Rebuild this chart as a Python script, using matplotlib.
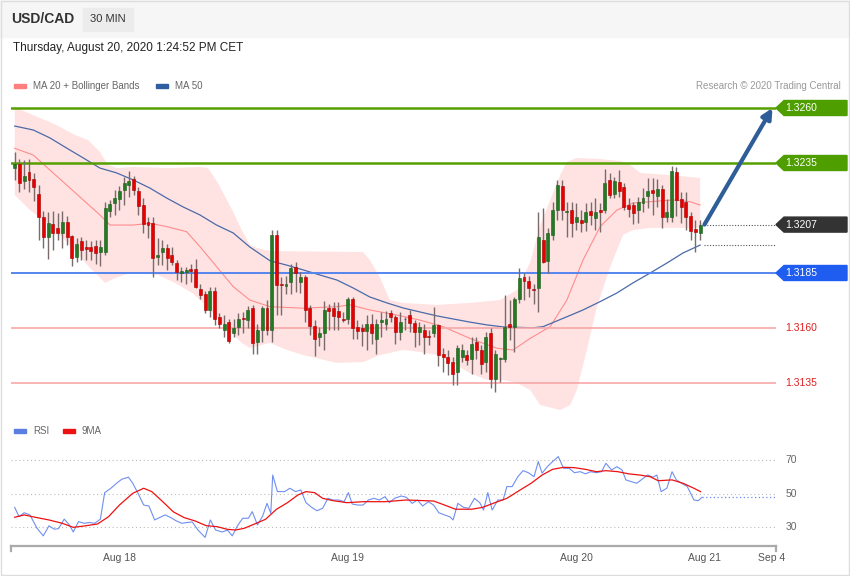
import numpy as np
import matplotlib
matplotlib.use("Agg")
import matplotlib.pyplot as plt
from matplotlib.patches import Polygon, Rectangle
from matplotlib.transforms import blended_transform_factory

plt.rcParams['font.family'] = ['Liberation Sans', 'DejaVu Sans']

# ---- candles (30 min bars, Aug 17 13:00 -> Aug 20 13:00) ----
opens = [1.32328, 1.32344, 1.32269, 1.32307, 1.32276, 1.32209, 1.32103, 1.32012, 1.32071, 1.32053,
         1.32030, 1.32084, 1.32018, 1.31923, 1.31996, 1.31966, 1.31966, 1.31972, 1.31945, 1.31946,
         1.32133, 1.32166, 1.32187, 1.32227, 1.32250, 1.32275, 1.32224, 1.32159, 1.32083, 1.32075,
         1.31923, 1.31946, 1.31962, 1.31930, 1.31896, 1.31851, 1.31853, 1.31867, 1.31867, 1.31775,
         1.31754, 1.31684, 1.31769, 1.31650, 1.31590, 1.31628, 1.31575, 1.31605, 1.31643, 1.31635,
         1.31689, 1.31537, 1.31593, 1.31693, 1.31593, 1.32022, 1.31798, 1.31793, 1.31810, 1.31878,
         1.31810, 1.31830, 1.31689, 1.31608, 1.31557, 1.31575, 1.31693, 1.31689, 1.31678, 1.31640,
         1.31640, 1.31731, 1.31604, 1.31598, 1.31587, 1.31617, 1.31552, 1.31626, 1.31620, 1.31669,
         1.31650, 1.31582, 1.31639, 1.31658, 1.31623, 1.31582, 1.31593, 1.31559, 1.31578, 1.31613,
         1.31481, 1.31468, 1.31446, 1.31400, 1.31468, 1.31476, 1.31461, 1.31537, 1.31502, 1.31446,
         1.31575, 1.31366, 1.31461, 1.31461, 1.31616, 1.31605, 1.31734, 1.31830, 1.31814, 1.31772,
         1.31784, 1.31999, 1.31905, 1.32022, 1.32136, 1.32245, 1.32125, 1.32136, 1.32083, 1.32090,
         1.32083, 1.32133, 1.32098, 1.32136, 1.32136, 1.32272, 1.32209, 1.32265, 1.32239, 1.32159,
         1.32159, 1.32136, 1.32169, 1.32200, 1.32227, 1.32200, 1.32230, 1.32103, 1.32103, 1.32310,
         1.32185, 1.32174, 1.32109, 1.32048, 1.32033]
highs = [1.32401, 1.32368, 1.32363, 1.32368, 1.32303, 1.32250, 1.32133, 1.32128, 1.32133, 1.32122,
         1.32133, 1.32109, 1.32022, 1.32007, 1.32014, 1.31999, 1.31995, 1.31999, 1.31999, 1.32174,
         1.32181, 1.32227, 1.32245, 1.32287, 1.32313, 1.32291, 1.32242, 1.32189, 1.32105, 1.32105,
         1.32007, 1.31999, 1.31984, 1.31969, 1.31908, 1.31878, 1.31875, 1.31893, 1.31912, 1.31802,
         1.31769, 1.31787, 1.31787, 1.31666, 1.31658, 1.31643, 1.31643, 1.31666, 1.31673, 1.31699,
         1.31704, 1.31620, 1.31699, 1.31726, 1.32045, 1.32045, 1.31832, 1.31835, 1.31893, 1.31901,
         1.31855, 1.31840, 1.31704, 1.31635, 1.31605, 1.31723, 1.31711, 1.31719, 1.31719, 1.31673,
         1.31741, 1.31741, 1.31635, 1.31620, 1.31658, 1.31663, 1.31643, 1.31673, 1.31678, 1.31681,
         1.31658, 1.31673, 1.31650, 1.31681, 1.31635, 1.31628, 1.31620, 1.31590, 1.31695, 1.31620,
         1.31507, 1.31499, 1.31468, 1.31522, 1.31529, 1.31499, 1.31559, 1.31559, 1.31522, 1.31582,
         1.31598, 1.31499, 1.31468, 1.31749, 1.31726, 1.31741, 1.31871, 1.31848, 1.31835, 1.31802,
         1.32128, 1.32144, 1.32053, 1.32174, 1.32272, 1.32272, 1.32174, 1.32174, 1.32166, 1.32136,
         1.32166, 1.32174, 1.32189, 1.32166, 1.32321, 1.32303, 1.32287, 1.32318, 1.32257, 1.32189,
         1.32174, 1.32196, 1.32235, 1.32280, 1.32280, 1.32276, 1.32250, 1.32185, 1.32336, 1.32333,
         1.32219, 1.32219, 1.32128, 1.32090, 1.32090]
lows = [1.32272, 1.32219, 1.32231, 1.32219, 1.32178, 1.31999, 1.31962, 1.31912, 1.31954, 1.31999,
        1.31962, 1.31977, 1.31881, 1.31901, 1.31908, 1.31908, 1.31908, 1.31893, 1.31881, 1.31931,
        1.32105, 1.32113, 1.32136, 1.32159, 1.32195, 1.32204, 1.32113, 1.32030, 1.32007, 1.31832,
        1.31886, 1.31886, 1.31863, 1.31886, 1.31817, 1.31810, 1.31802, 1.31810, 1.31780, 1.31734,
        1.31669, 1.31650, 1.31613, 1.31598, 1.31559, 1.31532, 1.31559, 1.31567, 1.31575, 1.31600,
        1.31484, 1.31484, 1.31537, 1.31567, 1.31537, 1.31661, 1.31658, 1.31754, 1.31754, 1.31764,
        1.31757, 1.31628, 1.31567, 1.31472, 1.31517, 1.31499, 1.31590, 1.31590, 1.31590, 1.31628,
        1.31620, 1.31552, 1.31552, 1.31517, 1.31499, 1.31529, 1.31484, 1.31559, 1.31590, 1.31628,
        1.31529, 1.31544, 1.31590, 1.31582, 1.31514, 1.31522, 1.31484, 1.31522, 1.31559, 1.31426,
        1.31400, 1.31385, 1.31340, 1.31340, 1.31446, 1.31431, 1.31393, 1.31461, 1.31393, 1.31400,
        1.31325, 1.31309, 1.31355, 1.31446, 1.31544, 1.31491, 1.31713, 1.31726, 1.31739, 1.31711,
        1.31673, 1.31895, 1.31848, 1.31999, 1.32090, 1.32090, 1.32014, 1.32012, 1.32045, 1.32037,
        1.32042, 1.32068, 1.32045, 1.32037, 1.32121, 1.32189, 1.32189, 1.32196, 1.32136, 1.32105,
        1.32072, 1.32075, 1.32127, 1.32144, 1.32113, 1.32151, 1.32053, 1.32083, 1.32083, 1.32109,
        1.32075, 1.32045, 1.31999, 1.31946, 1.31999]
closes = [1.32344, 1.32260, 1.32291, 1.32272, 1.32239, 1.32103, 1.32014, 1.32075, 1.32030, 1.32030,
          1.32081, 1.32014, 1.31916, 1.31981, 1.31954, 1.31957, 1.31951, 1.31939, 1.31966, 1.32144,
          1.32163, 1.32189, 1.32224, 1.32260, 1.32268, 1.32227, 1.32154, 1.32072, 1.32068, 1.31916,
          1.31931, 1.31962, 1.31916, 1.31898, 1.31855, 1.31858, 1.31863, 1.31860, 1.31787, 1.31749,
          1.31684, 1.31769, 1.31643, 1.31617, 1.31620, 1.31541, 1.31598, 1.31643, 1.31640, 1.31681,
          1.31532, 1.31593, 1.31693, 1.31593, 1.32022, 1.31795, 1.31795, 1.31802, 1.31871, 1.31851,
          1.31832, 1.31681, 1.31608, 1.31552, 1.31575, 1.31681, 1.31678, 1.31655, 1.31650, 1.31638,
          1.31731, 1.31602, 1.31587, 1.31587, 1.31620, 1.31575, 1.31620, 1.31635, 1.31643, 1.31650,
          1.31582, 1.31628, 1.31640, 1.31623, 1.31582, 1.31605, 1.31557, 1.31558, 1.31613, 1.31476,
          1.31468, 1.31441, 1.31393, 1.31507, 1.31502, 1.31453, 1.31529, 1.31499, 1.31438, 1.31559,
          1.31366, 1.31484, 1.31463, 1.31605, 1.31605, 1.31734, 1.31825, 1.31814, 1.31780, 1.31771,
          1.32014, 1.31901, 1.32030, 1.32136, 1.32250, 1.32136, 1.32130, 1.32078, 1.32105, 1.32078,
          1.32128, 1.32113, 1.32128, 1.32128, 1.32260, 1.32204, 1.32268, 1.32224, 1.32151, 1.32139,
          1.32124, 1.32174, 1.32189, 1.32222, 1.32213, 1.32230, 1.32103, 1.32128, 1.32315, 1.32181,
          1.32151, 1.32105, 1.32042, 1.32037, 1.32068]

# ---- MA 20, Bollinger bands, MA 50 (read at sample bars) ----
ma20_idx = [0, 3.9, 7.4, 10.9, 14.4, 17.9, 20, 24.9, 28.4, 31.9, 36.1, 38.9, 42.4, 45.9, 49.4, 53.6,
            60.6, 67.7, 70.4, 74.6, 80.3, 85.1, 90, 95.6, 101.3, 104.7, 108.3, 112.5, 116, 119.4,
            123, 126.5, 129.9, 133.5, 138.3, 141.9, 144]
ma20_val = [1.32417, 1.32386, 1.32318, 1.32250, 1.32182, 1.32114, 1.32068, 1.32068, 1.32076, 1.32061,
            1.32038, 1.31970, 1.31879, 1.31788, 1.31727, 1.31697, 1.31690, 1.31697, 1.31705, 1.31682,
            1.31659, 1.31636, 1.31606, 1.31553, 1.31508, 1.31500, 1.31553, 1.31606, 1.31727, 1.31909,
            1.32061, 1.32136, 1.32168, 1.32174, 1.32182, 1.32174, 1.32159]
ma50_idx = [0, 3.9, 7.4, 10.9, 14.4, 17.9, 21.4, 24.9, 28.4, 31.9, 35.4, 38.9, 42.4, 45.9, 49.4, 53.6,
            57.1, 60.6, 64.1, 67.7, 71.1, 74.6, 78.2, 81.6, 85.1, 88.7, 92.1, 95.6, 99.2, 102.6, 108.9,
            111, 116, 119.4, 123, 126.5, 129.9, 133.5, 137, 140.4, 144]
ma50_val = [1.32518, 1.32500, 1.32464, 1.32418, 1.32373, 1.32327, 1.32305, 1.32273, 1.32236, 1.32191,
            1.32150, 1.32114, 1.32068, 1.32032, 1.31968, 1.31906, 1.31886, 1.31864, 1.31841, 1.31818,
            1.31782, 1.31741, 1.31714, 1.31691, 1.31673, 1.31655, 1.31641, 1.31627, 1.31614, 1.31605,
            1.31601, 1.31606, 1.31651, 1.31682, 1.31720, 1.31759, 1.31805, 1.31850, 1.31895, 1.31941,
            1.31977]
bb_up_idx = [0, 3.8, 7.4, 9.5, 12.7, 15.4, 17.9, 19.6, 21.5, 24.9, 32.6, 38.9, 40.6, 42.7, 45.7, 47.7,
             49.4, 50.9, 53.6, 73.2, 74.6, 76.7, 78.8, 81.6, 88.7, 95.6, 102, 105.5, 108.3, 110.4,
             112.5, 114.6, 116, 118.1, 123, 127.2, 129.3, 131.4, 137.7, 144]
bb_up_val = [1.32605, 1.32568, 1.32536, 1.32514, 1.32477, 1.32455, 1.32400, 1.32341, 1.32327, 1.32332,
             1.32327, 1.32332, 1.32327, 1.32259, 1.32136, 1.32045, 1.31977, 1.31964, 1.31950, 1.31945,
             1.31909, 1.31832, 1.31727, 1.31714, 1.31705, 1.31714, 1.31727, 1.31773, 1.31900, 1.32068,
             1.32182, 1.32295, 1.32355, 1.32373, 1.32368, 1.32359, 1.32341, 1.32305, 1.32295, 1.32282]
bb_lo_idx = [0, 3.2, 7.4, 11.6, 15.8, 19, 21.1, 24.9, 30.1, 33.7, 37.3, 40.6, 44.2, 47.7, 49.4, 53.6,
             57.2, 60.6, 67.7, 73.2, 76.7, 81.6, 85.1, 88.7, 92.1, 95.6, 99.2, 102.6, 105.5, 108.3,
             110.4, 114.6, 116.7, 118.1, 120.2, 122.3, 125.1, 127.8, 129.9, 133.5, 144]
bb_lo_val = [1.32205, 1.32136, 1.32068, 1.31977, 1.31873, 1.31805, 1.31827, 1.31855, 1.31841, 1.31805,
             1.31759, 1.31695, 1.31605, 1.31532, 1.31509, 1.31532, 1.31500, 1.31477, 1.31441, 1.31445,
             1.31477, 1.31500, 1.31491, 1.31477, 1.31441, 1.31395, 1.31364, 1.31364, 1.31350, 1.31318,
             1.31250, 1.31227, 1.31250, 1.31318, 1.31500, 1.31695, 1.31877, 1.32023, 1.32045, 1.32055,
             1.32055]

# ---- RSI and its 9 period MA ----
rsi_idx = [0, 0.9, 2.0, 3.2, 4.7, 6.0, 7.2, 8.3, 9.2, 10.4, 11.5, 12.3, 13.4, 14.6, 15.7, 16.8, 18.0,
           18.9, 20.2, 21.4, 22.5, 23.9, 24.8, 25.9, 27.1, 28.2, 29.4, 30.5, 31.6, 32.8, 33.9, 35.1,
           36.2, 37.3, 38.5, 40.0, 41.1, 42.2, 43.6, 44.7, 45.7, 46.8, 47.9, 49.1, 49.9, 51.0, 52.1,
           53.0, 53.8, 54.2, 55.2, 56.7, 57.8, 59.0, 60.1, 61.2, 62.4, 63.5, 64.7, 65.8, 66.9, 68.1,
           69.2, 70.1, 70.9, 72.1, 73.2, 74.3, 75.5, 76.6, 77.8, 78.7, 79.8, 81.2, 82.3, 83.5, 84.6,
           85.7, 86.9, 88.0, 89.1, 90.3, 91.4, 92.1, 93.1, 94.3, 95.4, 96.6, 97.7, 98.5, 99.4, 100.3,
           101.5, 102.6, 103.4, 104.5, 105.7, 106.8, 107.9, 109.1, 110.0, 110.8, 111.9, 113.0, 114.2,
           115.3, 116.5, 117.6, 118.8, 119.9, 121.0, 122.2, 123.3, 124.2, 125.4, 126.5, 127.6, 128.4,
           129.6, 130.7, 131.8, 133.0, 134.1, 134.9, 135.8, 137.0, 138.1, 139.0, 140.1, 141.3, 142.7,
           143.6, 144.4]
rsi_val = [42, 36.5, 38.8, 37.5, 29.5, 25, 31, 29, 29.3, 35, 31.5, 27.3, 33.5, 32.5, 33, 32.5, 35,
           50.8, 53.4, 56.4, 58.8, 60, 56.4, 50.4, 43.4, 42.8, 34.5, 36, 37.5, 35.9, 34, 32.5, 33,
           33.3, 28.5, 24.1, 34.5, 28.5, 27.3, 28.5, 25, 31, 35.5, 35.5, 39.5, 31.5, 36.9, 44.4, 38.5,
           61.3, 51.4, 51.4, 53.4, 51.4, 52.4, 44.8, 42, 40, 41.5, 47.4, 46.4, 46.4, 45.4, 50.8, 44,
           43.4, 43.4, 46.4, 47.4, 46.4, 48.4, 44.8, 47.4, 48.8, 48, 44.4, 46.4, 42.8, 45.4, 43.4,
           38.8, 37.5, 36.4, 34.5, 44.4, 42, 41.5, 47.4, 44.8, 40.4, 50.8, 40.4, 46.4, 46.4, 54.4,
           54.4, 60.3, 63.9, 62.7, 60.3, 69.3, 62.4, 66.3, 69.3, 72.3, 65.3, 65.3, 62.7, 63.3, 62,
           63.3, 62.7, 63.3, 68.3, 64.3, 66.3, 64.3, 58.4, 57.3, 56.4, 58.8, 61.3, 60, 61.3, 51.4,
           53.4, 63.3, 58.4, 56.4, 54.4, 46.4, 46, 48]
rsi_ma_idx = [0, 2.0, 4.3, 7.2, 10.0, 12.3, 14.6, 17.4, 19.7, 22.0, 24.8, 27.1, 28.8, 31.1, 33.3,
              35.6, 37.9, 40.2, 42.5, 44.7, 46.4, 48.2, 50.4, 52.7, 55.0, 57.3, 59.5, 61.2, 63.0,
              64.7, 66.9, 69.8, 73.2, 77.8, 82.3, 88.0, 90.3, 92.6, 96.0, 98.3, 100.5, 103.4, 106.2,
              108.5, 110.8, 113.0, 115.3, 117.6, 119.9, 122.2, 124.2, 126.7, 129.0, 131.3, 133.5,
              135.2, 138.1, 140.4, 142.7, 144.1]
rsi_ma_val = [36.1, 37.5, 36.1, 34.5, 32.5, 30.1, 30.9, 32.1, 36.4, 43.4, 50.4, 53.4, 51.4, 45.4,
              39.4, 35.9, 33.9, 31.1, 30.5, 28.9, 28.5, 29.5, 32.1, 34.9, 40.9, 44.8, 49.4, 51.4,
              50.8, 47.4, 46, 44.8, 45.4, 45.4, 46.4, 45.8, 43.4, 40.9, 40.9, 42, 44.4, 47.4, 52.4,
              56.4, 61.3, 64.7, 65.9, 65.7, 64.7, 63.3, 63.9, 63.3, 62, 61.3, 60.3, 57.9, 58.4, 56.4,
              53.4, 51.4]

# ---- levels and axis labels ----
res_levels = [1.3260, 1.3235]
pivot_level = 1.3185
sup_levels = [1.3160, 1.3135]
last_price = 1.3207
target = 1.3260
date_ticks = [22.1, 70.0, 118.1, 145.0, 159.1]
date_labels = ['Aug 18', 'Aug 19', 'Aug 20', 'Aug 21', 'Sep 4']

W, H = 850, 576
fig = plt.figure(figsize=(W / 100, H / 100), dpi=100)


def fx(px):
    return px / W


def fy(py):
    return 1 - py / H


# header strip and frame
fig.patches.append(Rectangle((0, fy(37)), 1, 37 / H, transform=fig.transFigure,
                             color='#f6f6f6', zorder=0))
fig.patches.append(Rectangle((fx(83), fy(31)), 50 / W, 23 / H, transform=fig.transFigure,
                             color='#ececec', zorder=1))
fig.patches.append(Rectangle((0.001, 0.001), 0.998, 0.998, transform=fig.transFigure,
                             fill=False, ec='#dddddd', lw=1, zorder=1))

fig.text(fx(11), fy(19), 'USD/CAD', fontsize=10, fontweight='bold', color='#333333', va='center')
fig.text(fx(108), fy(19), '30 MIN', fontsize=8, color='#333333', va='center', ha='center')
fig.text(fx(13), fy(48), 'Thursday, August 20, 2020 1:24:52 PM CET', fontsize=8.5,
         color='#222222', va='center')

# legend rows
fig.patches.append(Rectangle((fx(14), fy(88)), 12 / W, 4 / H, transform=fig.transFigure, color='#ff7f7f'))
fig.text(fx(33), fy(86), 'MA 20 + Bollinger Bands', fontsize=7, color='#666666', va='center')
fig.patches.append(Rectangle((fx(156), fy(88)), 12 / W, 4 / H, transform=fig.transFigure, color='#2f5f9f'))
fig.text(fx(175), fy(86), 'MA 50', fontsize=7, color='#666666', va='center')
fig.text(fx(841), fy(86), 'Research \u00a9 2020 Trading Central', fontsize=7, color='#999999',
         va='center', ha='right')

fig.patches.append(Rectangle((fx(14), fy(433)), 12 / W, 4 / H, transform=fig.transFigure, color='#5b7fe0'))
fig.text(fx(33), fy(431), 'RSI', fontsize=7, color='#666666', va='center')
fig.patches.append(Rectangle((fx(63), fy(433)), 12 / W, 4 / H, transform=fig.transFigure, color='#ee1111'))
fig.text(fx(82), fy(431), '9MA', fontsize=7, color='#666666', va='center')

# ---- main price panel ----
ax = fig.add_axes([fx(11), fy(415), 765 / W, 320 / H])
ax.set_xlim(-0.78, 159.94)
ax.set_ylim(1.312045, 1.326591)
ax.axis('off')

poly_x = np.r_[bb_up_idx, bb_lo_idx[::-1]]
poly_y = np.r_[bb_up_val, bb_lo_val[::-1]]
ax.fill(poly_x, poly_y, color='#ffe3e3', lw=0, zorder=1)
ax.plot(ma20_idx, ma20_val, color='#ff8c8c', lw=0.8, zorder=2)
ax.plot(ma50_idx, ma50_val, color='#4a6aa8', lw=0.9, zorder=2)

for lv in res_levels:
    ax.axhline(lv, color='#55a000', lw=1.8, zorder=3)
ax.axhline(pivot_level, color='#5585ee', lw=1.4, zorder=3)
for lv in sup_levels:
    ax.axhline(lv, color='#f7a8a8', lw=1.2, zorder=3)

idx = np.arange(len(closes))
o = np.array(opens)
c = np.array(closes)
up = c >= o
ax.vlines(idx, lows, highs, color='#7a6a6a', lw=1, zorder=4)
body_h = np.maximum(np.abs(c - o), 0.00004)
ax.bar(idx, body_h, bottom=np.minimum(o, c), width=0.62,
       color=np.where(up, '#227a22', '#e80000'),
       edgecolor=np.where(up, '#1a5a1a', '#a00000'), lw=0.4, zorder=5)

last_i = idx[-1]
ax.plot([last_i + 0.8, 159.94], [last_price, last_price], ls=(0, (1, 1.5)), color='#555555', lw=0.8)
ax.plot([last_i + 0.8, 159.94], [ma50_val[-1], ma50_val[-1]], ls=(0, (1, 1.5)), color='#555555', lw=0.8)

ax.annotate('', xy=(159.2, target), xytext=(last_i + 0.9, last_price),
            arrowprops=dict(arrowstyle='-|>', color='#2e5d98', lw=3, mutation_scale=15,
                            shrinkA=0, shrinkB=0), annotation_clip=False, zorder=6)

# price tags on the right
trans = blended_transform_factory(fig.transFigure, ax.transData)
pix = (ax.get_ylim()[1] - ax.get_ylim()[0]) / 320.0


def tag(price, color):
    h = 7.5 * pix
    pts = [(fx(776), price), (fx(784), price + h), (fx(847), price + h),
           (fx(847), price - h), (fx(784), price - h)]
    ax.add_patch(Polygon(pts, closed=True, transform=trans, color=color, clip_on=False, zorder=6))
    ax.text(fx(785), price, f'{price:.4f}', transform=trans, color='white', fontsize=7.5,
            va='center', ha='left', zorder=7)


for lv in res_levels:
    tag(lv, '#4f9e00')
tag(last_price, '#333333')
tag(pivot_level, '#1f5cf0')
for lv in sup_levels:
    ax.text(fx(785), lv, f'{lv:.4f}', transform=trans, color='#e02020', fontsize=7.5,
            va='center', ha='left')

# ---- RSI panel ----
ax2 = fig.add_axes([fx(11), fy(546), 765 / W, 106 / H])
ax2.set_xlim(-0.78, 159.94)
ax2.set_ylim(18.96, 82.2)
for s in ['top', 'right', 'left']:
    ax2.spines[s].set_visible(False)
ax2.spines['bottom'].set_color('#aaaaaa')
ax2.spines['bottom'].set_linewidth(1.6)
ax2.set_yticks([])
for lv in [70, 50, 30]:
    ax2.axhline(lv, color='#bbbbbb', lw=0.8, ls=(0, (1, 2.5)))
    ax2.text(1.012, lv, str(lv), transform=blended_transform_factory(ax2.transAxes, ax2.transData),
             fontsize=7.5, color='#666666', va='center', ha='left')
ax2.plot(rsi_idx, rsi_val, color='#6f8ff0', lw=0.8)
ax2.plot(rsi_ma_idx, rsi_ma_val, color='#ee1111', lw=0.9)
ax2.plot([rsi_idx[-1], 159.94], [rsi_val[-1], rsi_val[-1]], ls=(0, (1, 2)), color='#6f8ff0', lw=0.9)

ax2.set_xticks(date_ticks)
ax2.set_xticklabels(date_labels, fontsize=7.5, color='#555555')
ax2.tick_params(axis='x', length=0, pad=5)
for xe in [-0.78, 159.94]:
    ax2.plot([xe, xe], [0, -0.05], transform=blended_transform_factory(ax2.transData, ax2.transAxes),
             color='#aaaaaa', lw=1.6, clip_on=False)

fig.savefig('out.png', dpi=100)
